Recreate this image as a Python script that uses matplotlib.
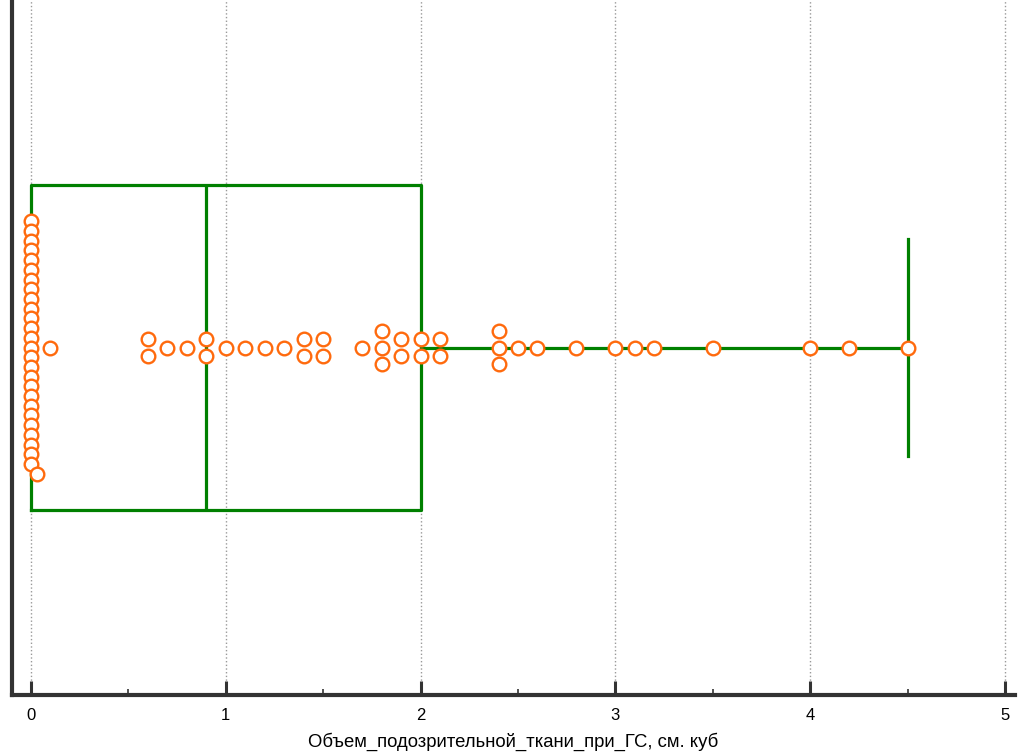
import numpy as np
import matplotlib
matplotlib.use("Agg")
import matplotlib.pyplot as plt
from matplotlib.ticker import MultipleLocator

# values (см. куб)
zeros = [0.0] * 26
small = [0.03, 0.1]
mid = [0.6, 0.6, 0.7, 0.8, 0.9, 0.9, 1.0, 1.1, 1.2, 1.3, 1.4, 1.4, 1.5, 1.5,
       1.7, 1.8, 1.8, 1.8, 1.9, 1.9, 2.0, 2.0, 2.1, 2.1]
high = [2.4, 2.4, 2.4, 2.5, 2.6, 2.8, 3.0, 3.1, 3.2, 3.5, 4.0, 4.2, 4.5]
values = np.array(zeros + small + mid + high)

xlabel = "Объем_подозрительной_ткани_при_ГС, см. куб"
green = "#008000"
orange = "#FF6A0D"

plt.rcParams['font.family'] = ['Liberation Sans', 'DejaVu Sans']

fig = plt.figure(figsize=(10.18, 7.53), dpi=100)
ax = fig.add_axes([0.0118, 0.077, 0.985, 0.923])

ax.boxplot(values, vert=False, positions=[0], widths=0.938, capwidths=0.627,
           whis=1.5, showfliers=False, manage_ticks=False,
           boxprops=dict(color=green, linewidth=2.3),
           medianprops=dict(color=green, linewidth=2.3),
           whiskerprops=dict(color=green, linewidth=2.3),
           capprops=dict(color=green, linewidth=2.3))

# stack points that fall in the same bin, centred on the box
bins = np.floor(values / 0.05).astype(int)
ys = np.zeros(len(values))
for b in np.unique(bins):
    idx = np.where(bins == b)[0]
    idx = idx[np.argsort(values[idx], kind="stable")]
    n = len(idx)
    sp = min(0.047, 0.726 / max(n - 1, 1))
    for k, i in enumerate(idx):
        ys[i] = -(k - (n - 1) / 2) * sp

ax.plot(values, ys, linestyle="none", marker="o", ms=9.8, mfc="white",
        mec=orange, mew=1.7, zorder=5)

ax.set_xlim(-0.0975, 5.05)
ax.set_ylim(-1, 1)
ax.set_yticks([])
ax.xaxis.set_major_locator(MultipleLocator(1))
ax.xaxis.set_minor_locator(MultipleLocator(0.5))
ax.tick_params(axis="x", which="major", direction="in", length=10, width=2.2,
               color="#333333", labelsize=12, pad=9)
ax.tick_params(axis="x", which="minor", direction="in", length=4, width=1.2,
               color="#333333")
ax.grid(axis="x", which="major", linestyle=":", color="#999999", linewidth=1)
ax.set_axisbelow(True)

for s in ["top", "right"]:
    ax.spines[s].set_visible(False)
for s in ["left", "bottom"]:
    ax.spines[s].set_color("#333333")
    ax.spines[s].set_linewidth(3)

ax.set_xlabel(xlabel, fontsize=13.3, labelpad=7)

fig.savefig("out.png", dpi=100)
